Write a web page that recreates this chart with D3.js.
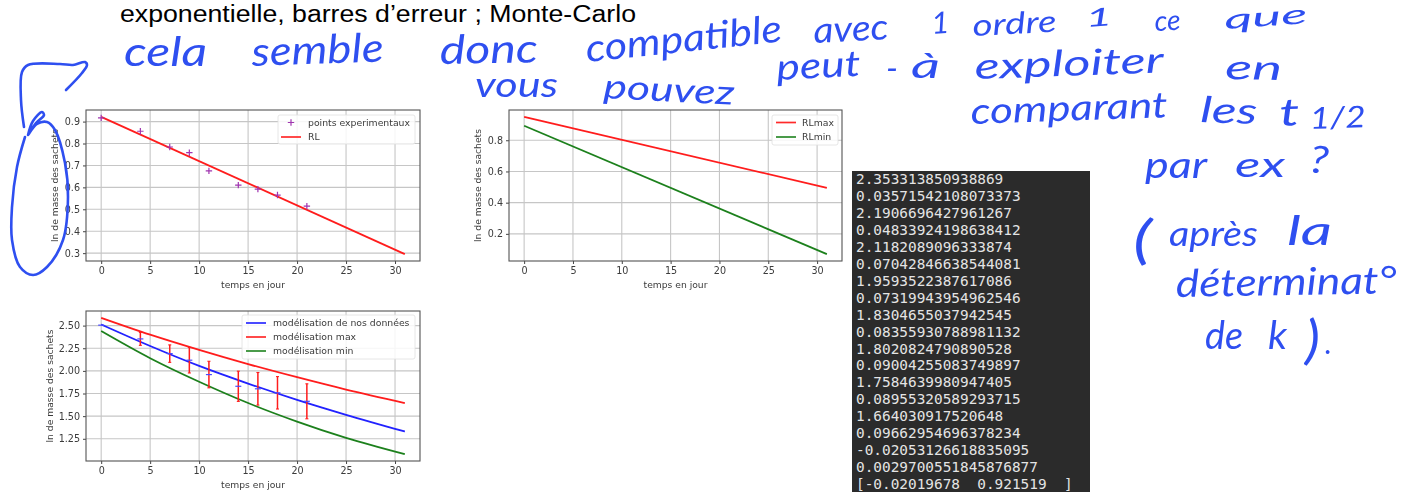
<!DOCTYPE html>
<html><head><meta charset="utf-8">
<script src="https://cdn.jsdelivr.net/npm/d3@7"></script>
<style>html,body{margin:0;padding:0;background:#fff;overflow:hidden}svg{display:block}</style>
</head><body><svg id="c" width="1413" height="492"></svg>
<script>
// ---- data
const days = [0, 4, 7, 9, 11, 14, 16, 18, 21];
const lnPoints = [0.917, 0.856, 0.784, 0.758, 0.675, 0.610, 0.592, 0.565, 0.514];
const rlDays = [0, 31];
const rl = [0.9215, 0.2955];
const rlMax = [0.950, 0.495];
const rlMin = [0.893, 0.070];
const modelDays = [0, 5, 10, 15, 20, 25, 31];
const modelData = [2.513, 2.275, 2.055, 1.860, 1.680, 1.515, 1.330];
const modelMax = [2.586, 2.400, 2.232, 2.075, 1.930, 1.794, 1.645];
const modelMin = [2.440, 2.140, 1.880, 1.645, 1.440, 1.260, 1.080];
const means = [2.505, 2.353, 2.191, 2.118, 1.959, 1.830, 1.802, 1.758, 1.664];
const errLow = [2.505, 2.282, 2.094, 1.977, 1.813, 1.663, 1.622, 1.579, 1.471];
const errHigh = [2.505, 2.425, 2.287, 2.259, 2.106, 1.997, 1.982, 1.937, 1.857];
const xTicks = [0, 5, 10, 15, 20, 25, 30];
const yTicks1 = [0.3, 0.4, 0.5, 0.6, 0.7, 0.8, 0.9];
const yTicks2 = [0.2, 0.4, 0.6, 0.8];
const yTicks3 = [1.25, 1.5, 1.75, 2, 2.25, 2.5];
const consoleLines = ["2.353313850938869","0.03571542108073373","2.1906696427961267","0.04833924198638412","2.1182089096333874","0.07042846638544081","1.9593522387617086","0.07319943954962546","1.8304655037942545","0.08355930788981132","1.8020824790890528","0.09004255083749897","1.7584639980947405","0.08955320589293715","1.664030917520648","0.09662954696378234","-0.02053126618835095","0.0029700551845876877","[-0.02019678  0.921519  ]"];
const title = "exponentielle, barres d’erreur ; Monte-Carlo";
const handWords = ["cela","semble","donc","compatible","avec","1","ordre","1","ce","que","vous","pouvez","peut","-","à","exploiter","en","comparant","les","t","1/2","par","ex","?","(","après","la","déterminat°","de","k",")","."];

// ---- layout of the handwriting: [x0, x1, baseline, rotation, font size]
const handLayout = [
 [124,207,66,0,40],[252,384,66,-2,40],[440,538,64,-1,40],[587,784,62,-6,38],[814,889,43,-3,36],
 [932,950,34,-4,30],[973,1057,36,-3,30],[1086,1113,27,-4,25],[1155,1181,31,-3,28],[1225,1308,29,-4,27],
 [475,558,97,0,34],[603,734,98,3,34],[777,861,80,-3,36],[886,898,80,0,32],[911,940,78,0,34],
 [975,1164,79,-2,36],[1225,1282,79,1,34],[971,1168,124,-2,36],[1200,1257,122,2,36],
 [1280,1300,126,-3,38],[1310,1366,129,-2,30],
 [1145,1207,178,0,36],[1235,1285,177,0,34],[1308,1327,172,6,38],
 [1133,1152,258,0,52],[1169,1258,246,0,34],[1287,1332,245,0,40],
 [1176,1397,297,-1,38],[1205,1243,349,0,38],[1268,1287,349,0,38],[1305,1320,358,0,52],[1325,1332,354,0,30]
];
const arrowInk = [[24,127],[21,100],[22,72],[28,65],[60,64],[73,65],[85,62],[87,65],[82,73],[66,90]];
const loopInk = [[28,135],[33,121],[42,112],[44,115],[36,123],[28,135],[37,124],[47,122],[55,130],[65,163],[68,197],[63,240],[47,267],[33,275],[20,267],[12,240],[12,207],[17,167],[25,137]];

const INK = "#2f4ff0", F = "'DejaVu Sans',sans-serif", TXT = "#3a3a3a";
const svg = d3.select("#c");
const defs = svg.append("defs");
defs.append("filter").attr("id","soft").attr("x","-5%").attr("y","-5%").attr("width","110%").attr("height","110%")
  .append("feGaussianBlur").attr("stdDeviation",0.55);
defs.append("filter").attr("id","inkSoft").append("feGaussianBlur").attr("stdDeviation",0.3);

function pad(vals){const [a,b]=d3.extent(vals),m=(b-a)*0.05;return [a-m,b+m];}
const PLUS = "M-3.2,0H3.2M0,-3.2V3.2";

function chart(box, yDomain, yTicks, yFmt, ylabelX, legend, draw){
  const g = svg.append("g").attr("filter","url(#soft)");
  const x = d3.scaleLinear().domain([-1.55,32.55]).range([box.l,box.r]);
  const y = d3.scaleLinear().domain(yDomain).range([box.b,box.t]);
  g.append("g").selectAll("line").data(xTicks).join("line")
    .attr("x1",x).attr("x2",x).attr("y1",box.t).attr("y2",box.b).attr("stroke","#c6c6c6").attr("stroke-width",1.1);
  g.append("g").selectAll("line").data(yTicks).join("line")
    .attr("x1",box.l).attr("x2",box.r).attr("y1",y).attr("y2",y).attr("stroke","#c6c6c6").attr("stroke-width",1.1);
  const ax = g.append("g").attr("transform",`translate(0,${box.b})`).call(d3.axisBottom(x).tickValues(xTicks).tickFormat(d3.format("d")).tickSize(3).tickPadding(3));
  const ay = g.append("g").attr("transform",`translate(${box.l},0)`).call(d3.axisLeft(y).tickValues(yTicks).tickFormat(d3.format(yFmt)).tickSize(3).tickPadding(3));
  [ax,ay].forEach(a=>{a.select(".domain").remove();a.selectAll("line").attr("stroke","#444");
    a.selectAll("text").attr("fill",TXT).style("font",`9.6px ${F}`);});
  draw(g,x,y);
  // legend
  const lg = g.append("g");
  lg.append("rect").attr("x",legend.x0).attr("y",legend.y0).attr("width",legend.x1-legend.x0).attr("height",legend.y1-legend.y0)
    .attr("rx",2).attr("fill","#fff").attr("fill-opacity",.85).attr("stroke","#e0e0e0").attr("stroke-width",.8);
  legend.items.forEach((it,i)=>{
    const yy = legend.rows[i];
    if(it.marker){
      lg.append("path").attr("d",PLUS).attr("transform",`translate(${(legend.sx0+legend.sx1)/2},${yy})`).attr("stroke",it.color).attr("stroke-width",1.2).attr("fill","none");
    } else {
      lg.append("line").attr("x1",legend.sx0).attr("x2",legend.sx1).attr("y1",yy).attr("y2",yy).attr("stroke",it.color).attr("stroke-width",1.7);
    }
    lg.append("text").attr("x",legend.tx).attr("y",yy+3.3).attr("fill",TXT).style("font",`9.3px ${F}`).text(it.label);
  });
  g.append("rect").attr("x",box.l).attr("y",box.t).attr("width",box.r-box.l).attr("height",box.b-box.t).attr("fill","none").attr("stroke","#555").attr("stroke-width",1.1);
  g.append("text").attr("x",(box.l+box.r)/2).attr("y",box.b+26.5).attr("text-anchor","middle").attr("fill",TXT).style("font",`9.2px ${F}`).text("temps en jour");
  g.append("text").attr("transform",`translate(${ylabelX},${(box.t+box.b)/2}) rotate(-90)`).attr("text-anchor","middle").attr("fill",TXT).style("font",`9.2px ${F}`).text("ln de masse des sachets");
}
const seg = (g,x,y,xs,ys,color,w,curve)=>g.append("path").datum(xs.map((d,i)=>[d,ys[i]]))
  .attr("fill","none").attr("stroke",color).attr("stroke-width",w)
  .attr("d",d3.line().x(d=>x(d[0])).y(d=>y(d[1])).curve(curve||d3.curveLinear));

// top-left
chart({l:86,r:420,t:110,b:261},pad(rl),yTicks1,".1f",58,
 {x0:278,x1:415,y0:115,y1:144,sx0:281,sx1:301,tx:308,rows:[122.5,137],
  items:[{label:"points experimentaux",color:"#a035b0",marker:true},{label:"RL",color:"#ff2a2a"}]},
 (g,x,y)=>{
  seg(g,x,y,rlDays,rl,"#ff1c1c",1.8);
  g.append("g").selectAll("path").data(days).join("path").attr("d",PLUS)
   .attr("transform",(d,i)=>`translate(${x(d)},${y(lnPoints[i])})`).attr("stroke","#a035b0").attr("stroke-width",1.2).attr("fill","none");
 });
// top-right
chart({l:509,r:842,t:110,b:261},pad(rlMax.concat(rlMin)),yTicks2,".1f",481,
 {x0:772,x1:838,y0:115,y1:145,sx0:776,sx1:796,tx:802,rows:[122.5,137],
  items:[{label:"RLmax",color:"#ff2a2a"},{label:"RLmin",color:"#2a8a2a"}]},
 (g,x,y)=>{
  seg(g,x,y,rlDays,rlMax,"#ff1c1c",1.8);
  seg(g,x,y,rlDays,rlMin,"#1c801c",1.8);
 });
// bottom-left
chart({l:86,r:420,t:311,b:461},pad(modelMax.concat(modelMin)),yTicks3,".2f",53,
 {x0:242,x1:415,y0:315,y1:359,sx0:246,sx1:266,tx:273,rows:[323,337,351],
  items:[{label:"modélisation de nos données",color:"#2a2aff"},{label:"modélisation max",color:"#ff2a2a"},{label:"modélisation min",color:"#2a8a2a"}]},
 (g,x,y)=>{
  seg(g,x,y,modelDays,modelData,"#2020ff",1.8,d3.curveMonotoneX);
  seg(g,x,y,modelDays,modelMax,"#ff1c1c",1.8,d3.curveMonotoneX);
  seg(g,x,y,modelDays,modelMin,"#1c801c",1.8,d3.curveMonotoneX);
  days.forEach((d,i)=>{
    if(errHigh[i]>errLow[i]){
      g.append("line").attr("x1",x(d)).attr("x2",x(d)).attr("y1",y(errLow[i])).attr("y2",y(errHigh[i])).attr("stroke","#ff1c1c").attr("stroke-width",1.5);
      [errLow[i],errHigh[i]].forEach(v=>g.append("line").attr("x1",x(d)-1.5).attr("x2",x(d)+1.5).attr("y1",y(v)).attr("y2",y(v)).attr("stroke","#ff1c1c").attr("stroke-width",1.1));
    }
    g.append("line").attr("x1",x(d)-3).attr("x2",x(d)+3).attr("y1",y(means[i])).attr("y2",y(means[i])).attr("stroke","#4a4aff").attr("stroke-width",1.2);
  });
 });

// console panel
svg.append("rect").attr("x",852).attr("y",171).attr("width",238).attr("height",321).attr("fill","#2b2b2b");
svg.append("g").selectAll("text").data(consoleLines).join("text")
  .attr("x",856).attr("y",(d,i)=>184+i*16.95).style("white-space","pre")
  .attr("fill","#e4e4e4").style("font","14.4px 'DejaVu Sans Mono',monospace").text(d=>d);

// printed title
svg.append("text").attr("x",120).attr("y",22).attr("textLength",516).attr("lengthAdjust","spacingAndGlyphs")
  .attr("fill","#000").style("font","23px 'Liberation Sans',Arial,sans-serif").text(title);

// handwriting
const hand = svg.append("g").attr("filter","url(#inkSoft)");
hand.selectAll("text").data(handWords).join("text")
  .attr("transform",(d,i)=>`translate(${handLayout[i][0]},${handLayout[i][2]}) rotate(${handLayout[i][3]})`)
  .attr("textLength",(d,i)=>handLayout[i][1]-handLayout[i][0]).attr("lengthAdjust","spacingAndGlyphs")
  .attr("fill",INK).style("font-family","Lato,sans-serif").style("font-style","italic").style("font-size",(d,i)=>handLayout[i][4]+"px").text(d=>d);
const ink = d3.line().curve(d3.curveCatmullRom);
[arrowInk,loopInk].forEach(p=>hand.append("path").attr("d",ink(p)).attr("fill","none").attr("stroke",INK).attr("stroke-width",2.6).attr("stroke-linecap","round"));
</script></body></html>
